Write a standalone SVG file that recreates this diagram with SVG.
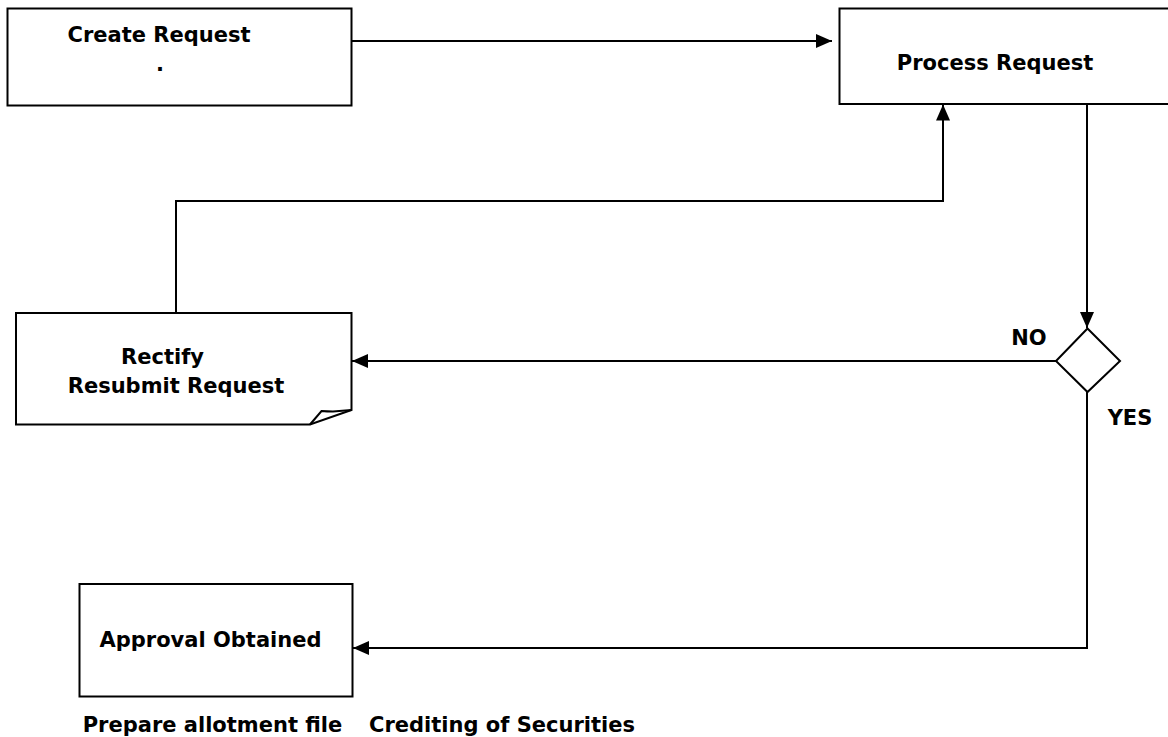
<svg xmlns="http://www.w3.org/2000/svg" width="1168" height="737" viewBox="0 0 1168 737">
  <style>
    .box { fill: #ffffff; stroke: #000000; stroke-width: 2; }
    .lbl { font-family: "DejaVu Sans", "Liberation Sans", sans-serif; font-weight: bold; font-size: 21px; fill: #000000; text-anchor: middle; }
    .conn { fill: none; stroke: #000000; stroke-width: 2; }
  </style>
  <defs>
    <marker id="arrow" markerUnits="userSpaceOnUse" markerWidth="17" markerHeight="15" refX="16" refY="7" orient="auto">
      <path d="M0,0 L16,7 L0,14 z" fill="#000000"/>
    </marker>
  </defs>

  <rect width="1168" height="737" fill="#ffffff"/>

  <!-- connectors -->
  <g id="connectors">
    <path class="conn" d="M352,41 H832" marker-end="url(#arrow)"/>
    <path class="conn" d="M1087,104 V328" marker-end="url(#arrow)"/>
    <path class="conn" d="M1056,361 H352" marker-end="url(#arrow)"/>
    <path class="conn" d="M1087,392 V648 H353" marker-end="url(#arrow)"/>
    <path class="conn" d="M176,313 V201 H943 V104.5" marker-end="url(#arrow)"/>
  </g>

  <g id="create-request">
    <rect class="box" x="7.5" y="8.5" width="344" height="97"/>
    <text class="lbl" x="159" y="42">Create Request</text>
    <text class="lbl" x="160" y="71">.</text>
  </g>

  <g id="process-request">
    <rect class="box" x="839.5" y="8.5" width="340" height="95.5"/>
    <text class="lbl" x="995" y="70">Process Request</text>
  </g>

  <g id="decision">
    <polygon class="box" points="1087.5,328.5 1120,361 1087.5,392 1056,361"/>
    <text class="lbl" x="1029" y="345">NO</text>
    <text class="lbl" x="1130" y="425">YES</text>
  </g>

  <g id="rectify-resubmit">
    <path class="box" d="M16,313 H351.5 V410 L310,424.5 H16 Z"/>
    <path class="conn" d="M310,424.5 L321.5,411 Q327,411.5 333,411.5 L351.5,410"/>
    <text class="lbl" x="162.5" y="364">Rectify</text>
    <text class="lbl" x="176" y="393">Resubmit Request</text>
  </g>

  <g id="approval-obtained">
    <rect class="box" x="79.5" y="584" width="273" height="112.5"/>
    <text class="lbl" x="210.5" y="647">Approval Obtained</text>
  </g>

  <g id="footer-labels">
    <text class="lbl" x="212.5" y="732">Prepare allotment file</text>
    <text class="lbl" x="502" y="732">Crediting of Securities</text>
  </g>
</svg>
